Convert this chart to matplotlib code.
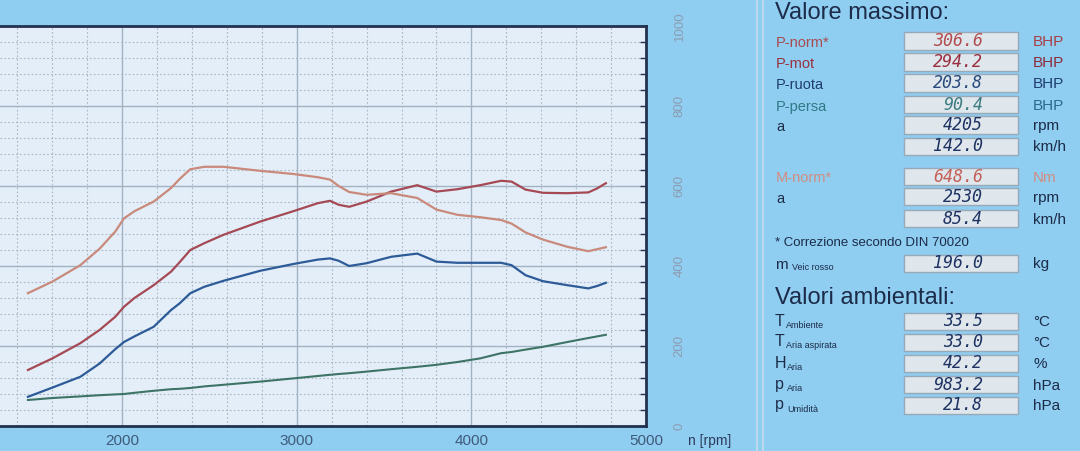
import matplotlib
matplotlib.use("Agg")
import matplotlib.pyplot as plt
from matplotlib.patches import Rectangle
from matplotlib.lines import Line2D
import numpy as np

# ---------------- data ----------------
rpm = [1460, 1600, 1760, 1870, 1960, 2010, 2070, 2180, 2280, 2330, 2390, 2470,
       2580, 2790, 2980, 3120, 3190, 3240, 3300, 3400, 3540, 3690, 3800, 3920,
       4050, 4170, 4230, 4310, 4410, 4550, 4670, 4720, 4770]

m_norm = [332, 361, 402, 443, 486, 519, 537, 561, 595, 618, 642, 648,
          648, 638, 630, 622, 616, 600, 585, 578, 582, 570, 541, 528,
          522, 515, 506, 484, 466, 448, 437, 442, 447]          # Nm

p_norm = [70, 84.5, 103.5, 120, 136.5, 149, 160, 176, 193, 205, 220, 228.5,
          239, 255.5, 268.5, 278.5, 281.5, 276.5, 274, 280.5, 293, 301, 293, 296,
          301, 306.5, 305.5, 295.5, 291.5, 291, 292, 297, 303.5]  # BHP

p_ruota = [36.5, 48, 61.5, 78, 96, 105, 112, 124, 145, 153.5, 166, 174,
           181.5, 194, 202.5, 208, 209.5, 206.5, 200, 203.5, 211.5, 215.5, 205.5, 204,
           204, 204, 201, 188.5, 181, 176, 172, 175, 179]          # BHP

p_persa = [32.5, 35, 37, 38.5, 39.5, 40, 41.5, 44, 46, 46.5, 47.5, 49.5,
           51.5, 55.5, 59.5, 62.5, 64, 65, 66, 68, 71, 74, 76.5, 80,
           84.5, 91, 92.5, 95.5, 99, 105, 110, 112, 114]          # BHP

x_ticks = [2000, 3000, 4000, 5000]
y_ticks = [0, 200, 400, 600, 800, 1000]

max_rows = [("P-norm*", "306.6", "BHP"), ("P-mot", "294.2", "BHP"),
            ("P-ruota", "203.8", "BHP"), ("P-persa", "90.4", "BHP"),
            ("a", "4205", "rpm"), ("", "142.0", "km/h"),
            ("M-norm*", "648.6", "Nm"), ("a", "2530", "rpm"), ("", "85.4", "km/h")]
mass_row = ("m", "Veic rosso", "196.0", "kg")
env_rows = [("T", "Ambiente", "33.5", "°C"), ("T", "Aria aspirata", "33.0", "°C"),
            ("H", "Aria", "42.2", "%"), ("p", "Aria", "983.2", "hPa"),
            ("p", "Umidità", "21.8", "hPa")]

# ---------------- styling ----------------
W, H = 1080, 451
BG = "#8fcdf1"
PLOT_BG = "#e3eef8"
NAVY = "#22324f"
C_TORQUE = "#c98a7c"
C_PNORM = "#a54a55"
C_RUOTA = "#2d5b98"
C_PERSA = "#3d7466"

plt.rcParams["font.family"] = ["Liberation Sans", "DejaVu Sans"]

fig = plt.figure(figsize=(W / 100, H / 100), dpi=100, facecolor=BG)


def fx(x):
    return x / W


def fy(y):
    return 1 - y / H


# main axes: power in BHP on a hidden 0-500 scale (left side is off-screen)
ax_l, ax_r, ax_t, ax_b = 0, 646, 26, 426
ax = fig.add_axes([fx(ax_l), fy(ax_b), (ax_r - ax_l) / W, (ax_b - ax_t) / H])
ax.set_facecolor(PLOT_BG)
ax.set_xlim(1300, 5000)
ax.set_ylim(0, 500)

ax.set_xticks(x_ticks)
ax.set_xticks(np.arange(1400, 5000, 200), minor=True)
ax.set_yticks(np.arange(0, 501, 100))
ax.set_yticks(np.arange(0, 501, 20), minor=True)
ax.grid(which="major", color="#a3b2c2", lw=1.0, ls="-")
ax.grid(which="minor", color="#a9b7c6", lw=0.8, ls=(0, (1.5, 2.0)))
ax.set_axisbelow(True)
ax.tick_params(axis="x", which="both", length=0, pad=6, labelsize=11,
               labelcolor="#3f5b7b")

for s in ["top", "right", "bottom"]:
    ax.spines[s].set_color(NAVY)
    ax.spines[s].set_linewidth(2.0)
ax.spines["left"].set_visible(False)

ax.plot(rpm, p_persa, color=C_PERSA, lw=1.5, zorder=3)
ax.plot(rpm, p_ruota, color=C_RUOTA, lw=1.6, zorder=3)
ax.plot(rpm, p_norm, color=C_PNORM, lw=1.6, zorder=3)

# torque on the visible right scale 0-1000 Nm
ax2 = ax.twinx()
ax.tick_params(axis="y", which="both", left=False, right=False,
               labelleft=False, labelright=False, length=0)
ax2.set_ylim(0, 1000)
ax2.set_yticks(y_ticks)
ax2.set_yticks(np.arange(0, 1001, 40), minor=True)
ax2.tick_params(axis="y", which="both", direction="in", length=4, width=1,
                color=NAVY, left=False, right=True, labelleft=False)
ax2.tick_params(axis="y", which="major", pad=20, labelsize=9.5,
                labelcolor="#8d9db0", labelrotation=90, labelright=True)
for lab in ax2.get_yticklabels():
    lab.set_va("center")
    lab.set_ha("left")
for s in ax2.spines.values():
    s.set_visible(False)
ax2.plot(rpm, m_norm, color=C_TORQUE, lw=1.6, zorder=3)

fig.text(fx(688), fy(441), "n [rpm]", fontsize=10, color="#2c3d5c",
         ha="left", va="center")

# ---------------- right panel ----------------
for xx in (757, 763):
    fig.add_artist(Line2D([fx(xx), fx(xx)], [0, 1], transform=fig.transFigure,
                          color="#c5dbeb", lw=1.2))

TXT = "#1c2b48"
fig.text(fx(775), fy(13), "Valore massimo:", fontsize=17, color=TXT,
         ha="left", va="center")

label_colors = ["#a84a4e", "#9a2f40", "#1f3d6e", "#2e7a84", TXT, TXT,
                "#d38d7f", TXT, TXT]
value_colors = ["#b24b4e", "#9a2d3e", "#284a7c", "#3c7c80", "#1d3262", "#1d3262",
                "#c45f58", "#1d3262", "#1d3262"]
unit_colors = ["#a84046", "#8e2a3a", "#1f3d6e", "#2a6a8e", TXT, TXT,
               "#d38d7f", TXT, TXT]
row_y = [41, 62, 83, 104.5, 125, 146, 176.5, 196.5, 218.5]

BOX_X0, BOX_X1, BOX_H = 904, 1018, 17


def draw_box(yc, value, color):
    fig.add_artist(Rectangle((fx(BOX_X0), fy(yc + BOX_H / 2)),
                             (BOX_X1 - BOX_X0) / W, BOX_H / H,
                             transform=fig.transFigure, facecolor="#dfe6ec",
                             edgecolor="#98a9b8", lw=1.0))
    fig.text(fx(983), fy(yc), value, fontsize=12, color=color, ha="right",
             va="center", family="DejaVu Sans Mono", style="italic")


for (lab, val, unit), yc, lc, vc, uc in zip(max_rows, row_y, label_colors,
                                          value_colors, unit_colors):
    if lab:
        fig.text(fx(776), fy(yc + 2), lab, fontsize=10.5, color=lc,
                 ha="left", va="center")
    draw_box(yc, val, vc)
    fig.text(fx(1033), fy(yc + 1), unit, fontsize=11, color=uc,
             ha="left", va="center")

fig.text(fx(775), fy(243), "* Correzione secondo DIN 70020", fontsize=9.5,
         color=TXT, ha="left", va="center")

# mass row
base, sub, val, unit = mass_row
fig.text(fx(775), fy(265), base, fontsize=11, color=TXT, ha="left", va="center")
fig.text(fx(792), fy(268), sub, fontsize=6.5, color=TXT, ha="left", va="center")
draw_box(263, val, "#1d3262")
fig.text(fx(1033), fy(264), unit, fontsize=11, color=TXT, ha="left", va="center")

fig.text(fx(775), fy(298), "Valori ambientali:", fontsize=17, color=TXT,
         ha="left", va="center")

env_y = [321.5, 342, 363.5, 384.5, 405]
for (base, sub, val, unit), yc in zip(env_rows, env_y):
    sub_x = 786 if base == "T" else 787
    fig.text(fx(775), fy(yc), base, fontsize=11.5, color=TXT, ha="left",
             va="center")
    fig.text(fx(sub_x), fy(yc + 4), sub, fontsize=6.5, color=TXT, ha="left",
             va="center")
    draw_box(yc, val, "#1d3262")
    fig.text(fx(1033), fy(yc + 1), unit, fontsize=11, color=TXT, ha="left",
             va="center")

fig.savefig("out.png", dpi=100, facecolor=BG)
